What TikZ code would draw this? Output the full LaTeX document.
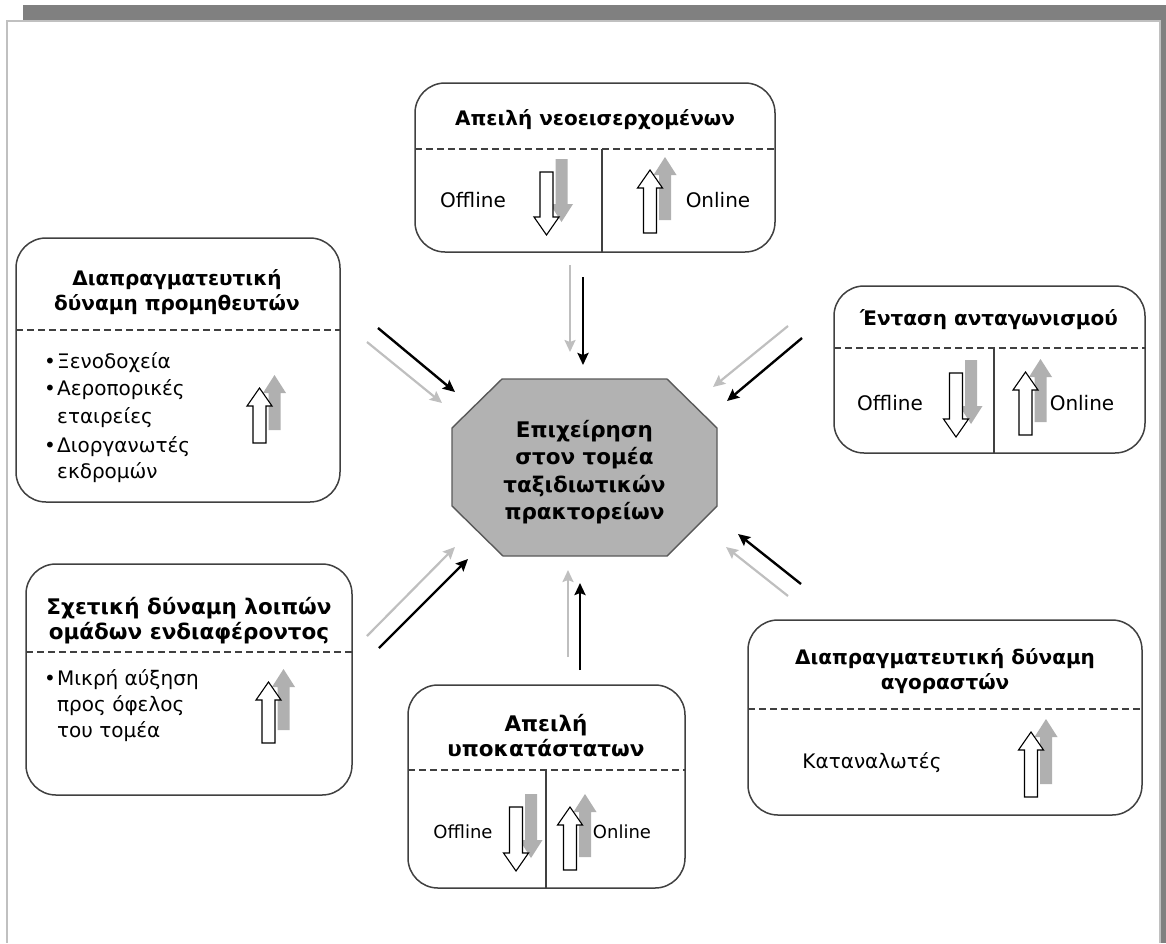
\documentclass[tikz,border=0pt]{standalone}
\usepackage{fontspec}
\setmainfont{Liberation Sans}
\newfontfamily\headfont{DejaVu Sans}
\usetikzlibrary{arrows.meta}

\definecolor{framedark}{HTML}{808080}
\definecolor{framelight}{HTML}{C0C0C0}
\definecolor{boxline}{HTML}{404040}
\definecolor{coregray}{HTML}{B2B2B2}
\definecolor{trendgray}{HTML}{B0B0B0}
\definecolor{linkgray}{HTML}{BFBFBF}

\tikzset{
  forcebox/.style={draw=boxline, line width=1.5pt, rounded corners=30pt, fill=white, inner sep=0pt},
  sectionline/.style={draw=boxline, line width=1.1pt, dash pattern=on 7pt off 4pt},
  splitline/.style={draw=boxline, line width=1.1pt},
  headtext/.style={font=\headfont\bfseries\fontsize{20}{25}\selectfont, align=center, inner sep=0pt},
  bighead/.style={font=\headfont\bfseries\fontsize{21.5}{25}\selectfont, align=center, inner sep=0pt},
  coretext/.style={font=\headfont\bfseries\fontsize{21.5}{27.5}\selectfont, align=center, inner sep=0pt},
  bodytext/.style={font=\headfont\fontsize{20}{27}\selectfont, inner sep=0pt, text height=15pt, text depth=5pt},
  smalltext/.style={font=\headfont\fontsize{18}{24}\selectfont, inner sep=0pt, text height=14pt, text depth=4pt},
  linkdark/.style={draw=black, line width=2.4pt, -{Stealth[length=12pt, width=11pt, inset=2pt]}},
  linklight/.style={draw=linkgray, line width=2.2pt, -{Stealth[length=12pt, width=11pt, inset=2pt]}},
  % hollow block arrow pointing up, with a grey arrow set behind it
  pics/trendup/.style={code={
    \begin{scope}[shift={(15,-13)}]
      \fill[trendgray] (-6,0) -- (-6,{18-#1}) -- (-11.5,{18-#1}) -- (0,{-#1})
        -- (11.5,{18-#1}) -- (6,{18-#1}) -- (6,0) -- cycle;
    \end{scope}
    \filldraw[fill=white, draw=black, line width=1.1pt] (-6.5,0) -- (-6.5,{18-#1})
      -- (-12.5,{18-#1}) -- (0,{-#1}) -- (12.5,{18-#1}) -- (6.5,{18-#1}) -- (6.5,0) -- cycle;
  }},
  % hollow block arrow pointing down, with a grey arrow set behind it
  pics/trenddown/.style={code={
    \begin{scope}[shift={(15,-13)}]
      \fill[trendgray] (-6,0) -- (-6,{#1-18}) -- (-11.5,{#1-18}) -- (0,{#1})
        -- (11.5,{#1-18}) -- (6,{#1-18}) -- (6,0) -- cycle;
    \end{scope}
    \filldraw[fill=white, draw=black, line width=1.1pt] (-6.5,0) -- (-6.5,{#1-18})
      -- (-12.5,{#1-18}) -- (0,{#1}) -- (12.5,{#1-18}) -- (6.5,{#1-18}) -- (6.5,0) -- cycle;
  }},
}

\begin{document}
\begin{tikzpicture}[x=1pt, y=-1pt]
  \useasboundingbox (0,0) rectangle (1166,943);

  % page frame
  \fill[framedark] (23,5) rectangle (1166,20);
  \fill[framedark] (1161,5) rectangle (1166,943);
  \fill[framelight] (6,20) rectangle (1161,22);
  \fill[framelight] (6,20) rectangle (8,943);
  \fill[framelight] (1159,20) rectangle (1161,943);

  % ---------- central firm ----------
  \filldraw[fill=coregray, draw=black!65, line width=1.4pt]
    (502,379) -- (667,379) -- (717,428) -- (717,506) -- (667,556)
    -- (503,556) -- (452,506) -- (452,428) -- cycle;
  \node[coretext] (core) at (584.5,472) {Επιχείρηση\\στον τομέα\\ταξιδιωτικών\\πρακτορείων};

  % ---------- threat of new entrants ----------
  \node[forcebox, minimum width=360pt, minimum height=169pt] (entr) at (595,167.5) {};
  \draw[sectionline] (415,149) -- (775,149);
  \draw[splitline] (602,149) -- (602,252);
  \node[headtext] (entr-t) at (595,120) {Απειλή νεοεισερχομένων};
  \node[bodytext] (entr-off) at (473,202) {Offline};
  \node[bodytext] (entr-on) at (718,202) {Online};
  \pic at (546.5,172) {trenddown=63};
  \pic at (650,233) {trendup=63};

  % ---------- supplier power ----------
  \node[forcebox, minimum width=324pt, minimum height=264pt] (supp) at (178,370) {};
  \draw[sectionline] (16,330) -- (340,330);
  \node[headtext] (supp-t) at (177,292.5) {Διαπραγματευτική\\δύναμη προμηθευτών};
  \node[bodytext] (supp-b1) at (50,363) {•};
  \node[bodytext, anchor=west] (supp-1) at (57,363) {Ξενοδοχεία};
  \node[bodytext] (supp-b2) at (50,390) {•};
  \node[bodytext, anchor=west] (supp-2) at (57,390) {Αεροπορικές};
  \node[bodytext, anchor=west] (supp-3) at (57,418) {εταιρείες};
  \node[bodytext] (supp-b4) at (50,447) {•};
  \node[bodytext, anchor=west] (supp-4) at (57,447) {Διοργανωτές};
  \node[bodytext, anchor=west] (supp-5) at (57,473) {εκδρομών};
  \pic at (259.5,443) {trendup=55};

  % ---------- rivalry ----------
  \node[forcebox, minimum width=311pt, minimum height=167pt] (riv) at (989.5,369.5) {};
  \draw[sectionline] (834,348) -- (1145,348);
  \draw[splitline] (994,348) -- (994,453);
  \node[headtext] (riv-t) at (989,320) {Ένταση ανταγωνισμού};
  \node[bodytext] (riv-off) at (890,405) {Offline};
  \node[bodytext] (riv-on) at (1082,405) {Online};
  \pic at (956,373) {trenddown=64};
  \pic at (1025.5,435) {trendup=63};

  % ---------- other stakeholders ----------
  \node[forcebox, minimum width=326pt, minimum height=231pt] (stak) at (189,679.5) {};
  \draw[sectionline] (26,652) -- (352,652);
  \node[bighead] (stak-t) at (189,621) {Σχετική δύναμη λοιπών\\ομάδων ενδιαφέροντος};
  \node[bodytext] (stak-b1) at (50,680) {•};
  \node[bodytext, anchor=west] (stak-1) at (57,680) {Μικρή αύξηση};
  \node[bodytext, anchor=west] (stak-2) at (57,706) {προς όφελος};
  \node[bodytext, anchor=west] (stak-3) at (57,732) {του τομέα};
  \pic at (268.5,743) {trendup=61};

  % ---------- threat of substitutes ----------
  \node[forcebox, minimum width=277pt, minimum height=203pt] (subs) at (546.5,786.5) {};
  \draw[sectionline] (408,770) -- (685,770);
  \draw[splitline] (546,770) -- (546,888);
  \node[bighead] (subs-t) at (546,735.5) {Απειλή\\υποκατάστατων};
  \node[smalltext] (subs-off) at (463,833) {Offline};
  \node[smalltext] (subs-on) at (622,833) {Online};
  \pic at (516,807) {trenddown=64};
  \pic at (570,870) {trendup=63};

  % ---------- buyer power ----------
  \node[forcebox, minimum width=394pt, minimum height=195pt] (buy) at (945,717.5) {};
  \draw[sectionline] (748,709) -- (1142,709);
  \node[headtext] (buy-t) at (945,671.5) {Διαπραγματευτική δύναμη\\αγοραστών};
  \node[bodytext] (buy-1) at (872,763) {Καταναλωτές};
  \pic at (1031,797) {trendup=65};

  % ---------- influence arrows towards the firm ----------
  \coordinate (entrL-s) at (570,265);  \coordinate (entrL-e) at (570,352);
  \coordinate (entrD-s) at (583,277);  \coordinate (entrD-e) at (583,365);
  \coordinate (suppD-s) at (378,328);  \coordinate (suppD-e) at (455,392);
  \coordinate (suppL-s) at (367,342);  \coordinate (suppL-e) at (442,403);
  \coordinate (rivL-s) at (788,326);   \coordinate (rivL-e) at (713,387);
  \coordinate (rivD-s) at (802,338);   \coordinate (rivD-e) at (727,401);
  \coordinate (stakL-s) at (367,636);  \coordinate (stakL-e) at (455,547);
  \coordinate (stakD-s) at (379,648);  \coordinate (stakD-e) at (468,559);
  \coordinate (subsL-s) at (568,657);  \coordinate (subsL-e) at (568,570);
  \coordinate (subsD-s) at (580,670);  \coordinate (subsD-e) at (580,583);
  \coordinate (buyD-s) at (801,584);   \coordinate (buyD-e) at (738,534);
  \coordinate (buyL-s) at (788,596);   \coordinate (buyL-e) at (726,547);

  \draw[linklight] (entrL-s) -- (entrL-e);
  \draw[linkdark]  (entrD-s) -- (entrD-e);
  \draw[linkdark]  (suppD-s) -- (suppD-e);
  \draw[linklight] (suppL-s) -- (suppL-e);
  \draw[linklight] (rivL-s) -- (rivL-e);
  \draw[linkdark]  (rivD-s) -- (rivD-e);
  \draw[linklight] (stakL-s) -- (stakL-e);
  \draw[linkdark]  (stakD-s) -- (stakD-e);
  \draw[linklight] (subsL-s) -- (subsL-e);
  \draw[linkdark]  (subsD-s) -- (subsD-e);
  \draw[linkdark]  (buyD-s) -- (buyD-e);
  \draw[linklight] (buyL-s) -- (buyL-e);
\end{tikzpicture}
\end{document}
